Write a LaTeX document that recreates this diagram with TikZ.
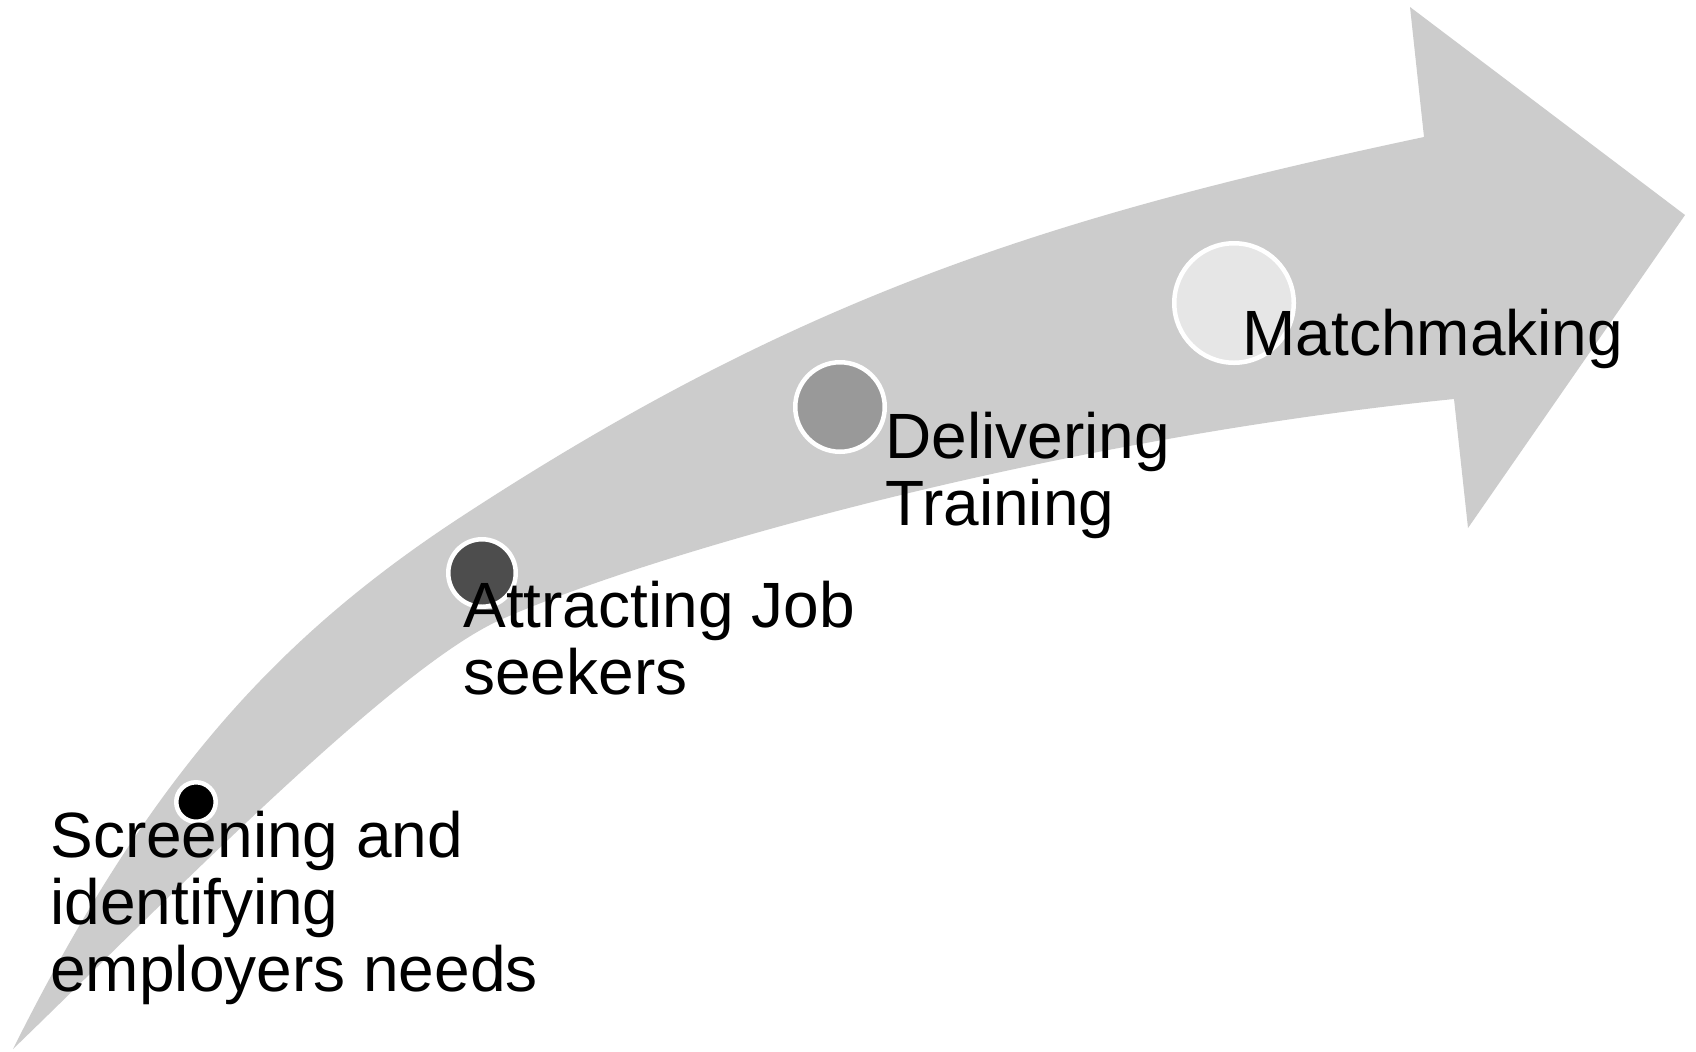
\documentclass[tikz,border=0pt]{standalone}
\usepackage{fontspec}
\setmainfont{Liberation Sans}
\definecolor{bandgray}{HTML}{CCCCCC}
\definecolor{stepA}{HTML}{000000}
\definecolor{stepB}{HTML}{4D4D4D}
\definecolor{stepC}{HTML}{999999}
\definecolor{stepD}{HTML}{E6E6E6}
\tikzset{
  stepdot/.style={circle, draw=white, line width=2.25pt, inner sep=0pt},
  steplabel/.style={anchor=base west, inner sep=0pt, text=black,
    font=\fontsize{32}{33.5}\selectfont},
}
\begin{document}
\begin{tikzpicture}[x=0.5pt, y=-0.5pt]
  \fill[white] (0,0) rectangle (1696,1051);
  \useasboundingbox (0,0) rectangle (1696,1051);

  % curved arrow band: upper edge, head, lower edge back to the tail
  \fill[bandgray]
    (13,1049) .. controls (147,781) and (274,638) .. (467,513)
              .. controls (802,295) and (1052,216) .. (1424,137)
    -- (1410,7) -- (1685,215) -- (1468,528) -- (1454,399)
              .. controls (1036,441) and (637,558.5) .. (500,620)
              .. controls (391,669) and (157,910) .. (13,1049)
    -- cycle;

  % step markers
  \node[stepdot, fill=stepA, minimum size=19.75pt] (d1) at (196,802) {};
  \node[stepdot, fill=stepB, minimum size=33.75pt] (d2) at (482,573) {};
  \node[stepdot, fill=stepC, minimum size=44.75pt] (d3) at (840,407) {};
  \node[stepdot, fill=stepD, minimum size=59.75pt] (d4) at (1234,303) {};

  % step labels
  \node[steplabel] (t1) at (50,857)
    {\vtop{\hbox{Screening and}\hbox{identifying}\hbox{employers needs}}};
  \node[steplabel] (t2) at (463,627)
    {\vtop{\hbox{Attracting Job}\hbox{seekers}}};
  \node[steplabel] (t3) at (885,458)
    {\vtop{\hbox{Delivering}\hbox{Training}}};
  \node[steplabel] (t4) at (1242,355) {Matchmaking};
\end{tikzpicture}
\end{document}
